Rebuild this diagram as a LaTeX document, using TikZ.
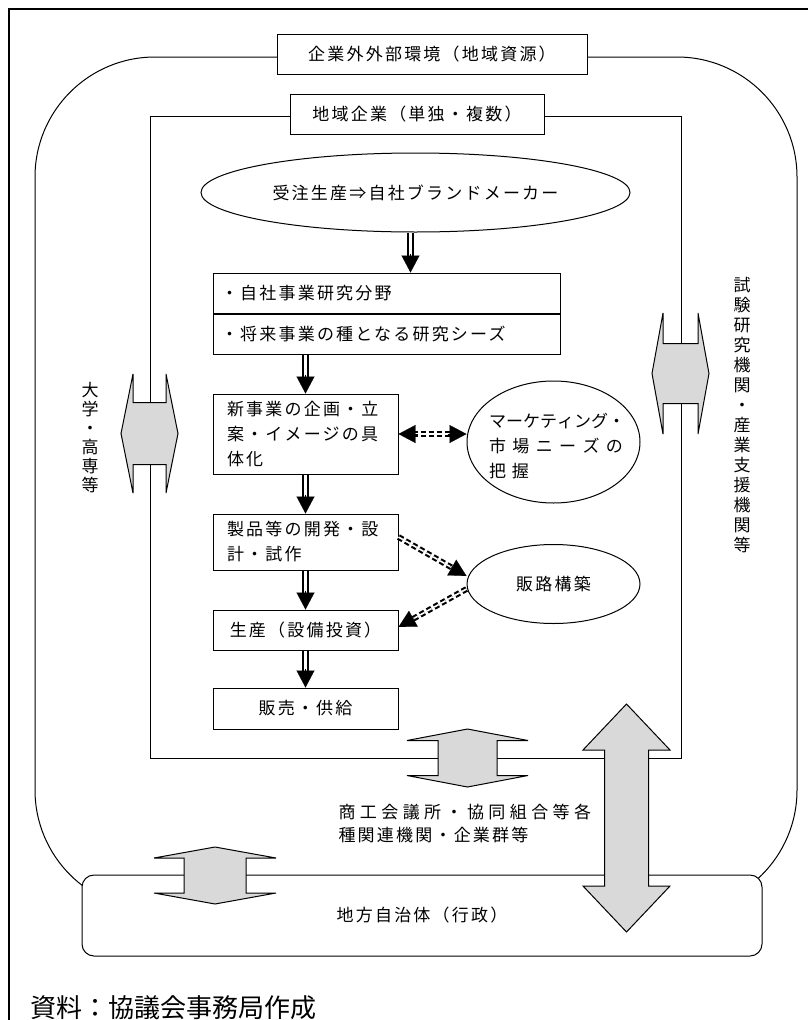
\documentclass[tikz,border=0pt]{standalone}
\usepackage{fontspec}
\setmainfont{Noto Sans CJK JP}
\newfontfamily\jp[LetterSpace=13]{Noto Sans CJK JP}
\usetikzlibrary{shapes.geometric,arrows.meta,calc,positioning}

\tikzset{
  box/.style={draw, line width=1pt, fill=white, inner sep=0pt, font=\jp\fontsize{17}{25}\selectfont},
  oval/.style={ellipse, draw, line width=1pt, fill=white, inner sep=0pt, font=\jp\fontsize{17}{25}\selectfont},
  pipe/.style={double, double distance=2.4pt, line width=2.2pt, shorten >=14pt},
  dpipe/.style={double, double distance=1.6pt, line width=2.1pt, dash pattern=on 5pt off 3pt},
  headtip/.style={-{Triangle[length=17pt,width=18pt]}, line width=0.2pt},
  fat/.style={draw, line width=1pt, fill=black!15, line join=miter},
  vtext/.style={font=\fontsize{17}{19}\selectfont, align=center, inner sep=0pt},
}

% 实线双线箭头
\newcommand{\pipeto}[2]{%
  \draw[pipe] (#1) -- (#2);
  \draw[headtip] ($(#2)!19pt!(#1)$) -- (#2);}
% 虚线双线箭头
\newcommand{\dashto}[2]{%
  \draw[dpipe, shorten >=14pt] (#1) -- (#2);
  \draw[headtip] ($(#2)!19pt!(#1)$) -- (#2);}
% 粗的双向箭头: 中心, 角度, 半长, 箭头深, 箭头半宽, 箭身半宽
\newcommand{\twoway}[6]{%
  \filldraw[fat, shift={#1}, rotate=#2]
    (-#3,0) -- (-#3+#4,#5) -- (-#3+#4,#6) -- (#3-#4,#6) -- (#3-#4,#5)
    -- (#3,0) -- (#3-#4,-#5) -- (#3-#4,-#6) -- (-#3+#4,-#6) -- (-#3+#4,-#5) -- cycle;}

\begin{document}
\begin{tikzpicture}[x=1pt, y=-1pt]
    \useasboundingbox (0,0) rectangle (808,1020);
    \clip (0,0) rectangle (808,1020);

    % 外框
    \draw[line width=1.4pt] (9,9) rectangle (840,1060);
    \draw[line width=1pt, rounded corners=120pt] (35,57) rectangle (797,910);
    \draw[line width=1pt] (150,116) rectangle (681,758);

    % 标题框
    \node[box, minimum width=310pt, minimum height=40pt] (env) at (432,54) {企業外外部環境（地域資源）};
    \node[box, minimum width=254pt, minimum height=40pt] (firm) at (417,114) {地域企業（単独・複数）};

    % 流程
    \node[oval, minimum width=429pt, minimum height=79pt] (goal) at (415.5,192.5) {受注生産⇒自社ブランドメーカー};
    \node[box, minimum width=347pt, minimum height=40pt, text width=331pt, align=left] (res1) at (386.5,293) {・自社事業研究分野};
    \node[box, minimum width=347pt, minimum height=40pt, text width=331pt, align=left, below=0pt of res1] (res2) {・将来事業の種となる研究シーズ};
    \node[box, minimum width=185pt, minimum height=80pt, text width=157pt, align=left] (plan) at (305.5,434) {新事業の企画・立\\案・イメージの具\\体化};
    \node[box, minimum width=185pt, minimum height=56pt, text width=157pt, align=left] (dev) at (305.5,542) {製品等の開発・設\\計・試作};
    \node[box, minimum width=185pt, minimum height=40pt] (prod) at (305.5,630) {生産（設備投資）};
    \node[box, minimum width=185pt, minimum height=41pt] (sale) at (305.5,708.5) {販売・供給};

    % 椭圆
    \node[oval, minimum width=173pt, minimum height=122pt] (mkt) at (553.5,442) {};
    \node[font=\fontsize{17}{25}\selectfont, align=left] (mkttext) at (556,446)
        {\makebox[134pt][s]{マ\hfil ー\hfil ケ\hfil テ\hfil ィ\hfil ン\hfil グ\hfil ・}\\
         \makebox[134pt][s]{市\hfil 場\hfil ニ\hfil ー\hfil ズ\hfil の}\\
         \makebox[40pt][s]{把\hfil 握}};
    \node[oval, minimum width=173pt, minimum height=79pt] (route) at (553.5,584) {販路構築};

    % 地方自治体
    \node[box, rounded corners=12pt, minimum width=680pt, minimum height=81pt] (gov) at (422,915.5) {地方自治体（行政）};

    % 实线箭头
    \coordinate (a0) at ([xshift=-5pt]goal.south);
    \coordinate (a1) at (a0 |- res1.north);
    \pipeto{a0}{a1}
    \coordinate (b0) at (res2.south -| plan.north);
    \pipeto{b0}{plan.north}
    \pipeto{plan.south}{dev.north}
    \pipeto{dev.south}{prod.north}
    \pipeto{prod.south}{sale.north}

    % 虚线箭头
    \coordinate (m0) at (plan.east);
    \coordinate (m1) at (plan.east -| mkt.west);
    \draw[dpipe, shorten >=14pt, shorten <=14pt] (m0) -- (m1);
    \draw[headtip] ($(m1)!19pt!(m0)$) -- (m1);
    \draw[headtip] ($(m0)!19pt!(m1)$) -- (m0);
    \coordinate (d0) at ([yshift=5pt]dev.east);
    \coordinate (d1) at ([yshift=8pt]route.west);
    \dashto{d0}{d1}
    \coordinate (p0) at ([yshift=-5pt]route.west);
    \coordinate (p1) at ([yshift=3pt]prod.east);
    \dashto{p0}{p1}

    % 双向粗箭头
    \twoway{(149.5,433.5)}{0}{28.5}{12}{59.5}{31}
    \twoway{(680.5,373.5)}{0}{28.5}{11}{60.5}{30}
    \twoway{(467.5,758)}{90}{29}{11.5}{60.5}{29.5}
    \twoway{(215,875.5)}{90}{28.5}{11}{61}{31}
    \twoway{(626.5,818)}{90}{114}{46}{43.5}{22}

    % 文字
    \node[vtext, anchor=north] (univ) at (90,382) {大\\学\\・\\高\\専\\等};
    \node[vtext, anchor=north, font=\fontsize{17}{20}\selectfont] (inst) at (742,277) {試\\験\\研\\究\\機\\関\\・\\産\\業\\支\\援\\機\\関\\等};
    \node[anchor=west, align=left, font=\jp\fontsize{17}{23}\selectfont] (org) at (335,823.5)
        {{\addfontfeatures{LetterSpace=26}商工会議所・協同組合等各}\\種関連機関・企業群等};
    \node[anchor=base west, font=\fontsize{26}{30}\selectfont] (src) at (27,1017) {資料：協議会事務局作成};
\end{tikzpicture}
\end{document}
